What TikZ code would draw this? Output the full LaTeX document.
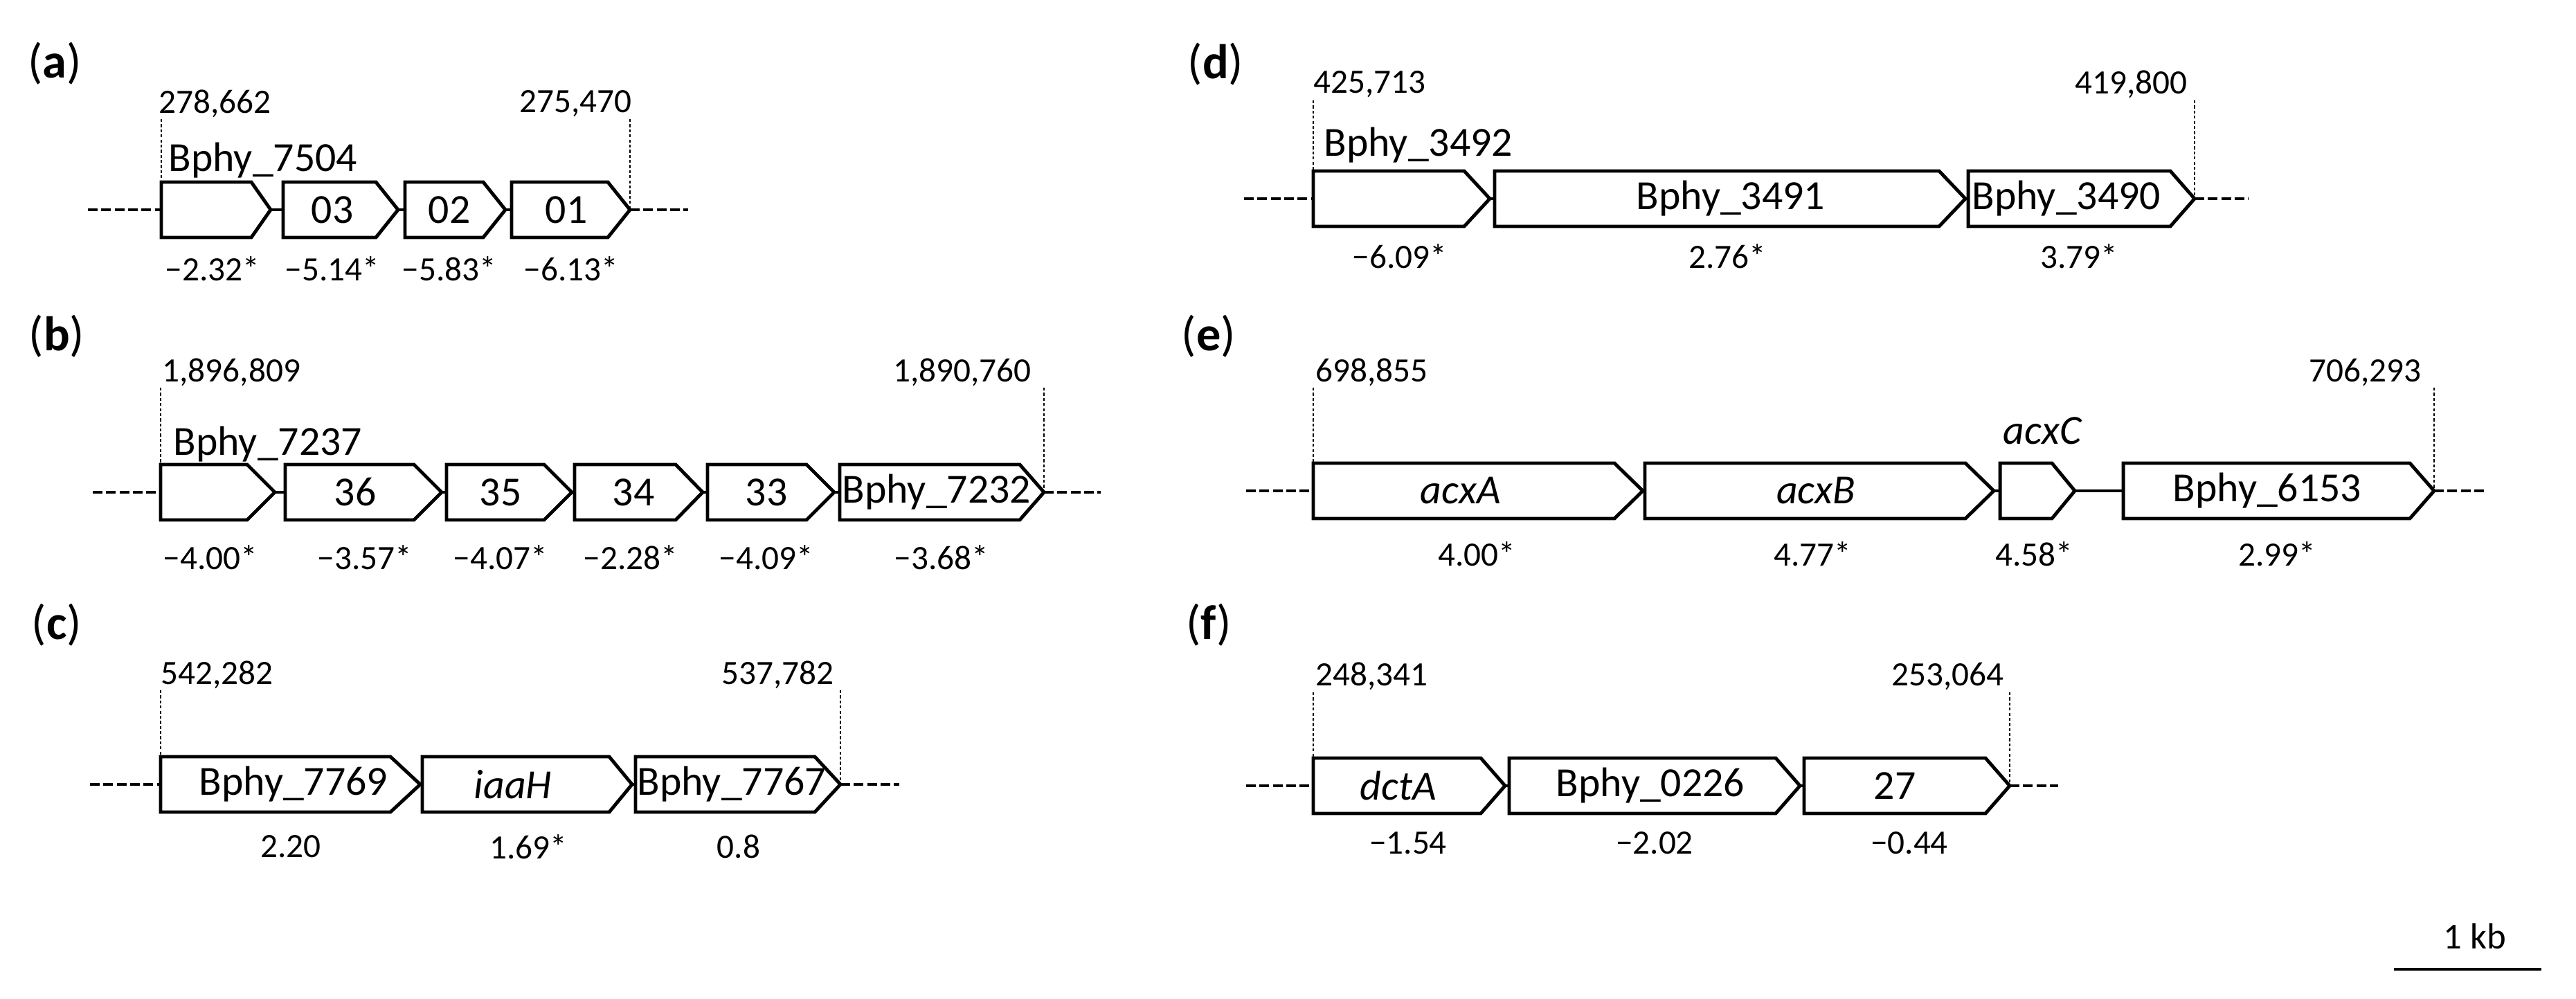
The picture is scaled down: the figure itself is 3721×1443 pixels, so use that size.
\documentclass[tikz,border=0pt]{standalone}
\usepackage{fontspec}
\setmainfont{Carlito}
\newcommand\genebox[5]{% x0, xb, xt, ymid, name
  \draw[gene] (#1,#4-40) -- (#2,#4-40) -- (#3,#4) -- (#2,#4+40) -- (#1,#4+40) -- cycle;
  \coordinate (#5) at ({(#1+#2)/2},#4);}
\begin{document}
\begin{tikzpicture}[x=0.01cm,y=-0.01cm,
  gene/.style={draw=black,fill=white,line width=1.4pt,line join=miter},
  backbone/.style={line width=1.4pt},
  flank/.style={line width=1.2pt,dash pattern=on 4pt off 1.5pt},
  guide/.style={line width=0.5pt,dash pattern=on 1.2pt off 0.9pt},
  num/.style={font=\fontsize{14}{16}\selectfont,inner sep=0pt},
  glab/.style={font=\fontsize{17}{20}\selectfont,inner sep=0pt},
  val/.style={font=\fontsize{14}{16}\selectfont,inner sep=0pt},
  panel/.style={font=\fontsize{20}{24}\selectfont,inner sep=0pt}]
\useasboundingbox (0,0) rectangle (3721,1443);

% ---------- (a)
\node[panel] (pa) at (79,92) {(\textbf{a})};
\coordinate (aFL) at (127,303); \coordinate (aL) at (233,303);
\coordinate (aR) at (910,303); \coordinate (aFR) at (994,303);
\draw[flank] (aFL) -- (aL); \draw[flank] (aR) -- (aFR);
\draw[backbone] (aL) -- (aR);
\genebox{233}{363}{391}{303}{a1}
\genebox{409}{543}{575}{303}{a2}
\genebox{585}{698}{730}{303}{a3}
\genebox{739}{878}{910}{303}{a4}
\node[num,anchor=west] (an1) at (229,150) {278,662};
\node[num,anchor=east] (an2) at (913,150) {275,470};
\coordinate (agl) at (233,172); \coordinate (agl2) at (233,263);
\coordinate (agr) at (910,172);
\draw[guide] (agl) -- (agl2); \draw[guide] (agr) -- (aR);
\node[glab,anchor=west] (al1) at (243,232) {Bphy\_7504};
\node[glab] (al2) at (480,303) {03};
\node[glab] (al3) at (649,303) {02};
\node[glab] (al4) at (818,303) {01};
\node[val] (av1) at (307,388) {−2.32*};
\node[val] (av2) at (480,388) {−5.14*};
\node[val] (av3) at (649,388) {−5.83*};
\node[val] (av4) at (825,388) {−6.13*};

% ---------- (b)
\node[panel] (pb) at (82,486) {(\textbf{b})};
\coordinate (bFL) at (134,711); \coordinate (bL) at (232,711);
\coordinate (bR) at (1508,711); \coordinate (bFR) at (1590,711);
\draw[flank] (bFL) -- (bL); \draw[flank] (bR) -- (bFR);
\draw[backbone] (bL) -- (bR);
\genebox{232}{357}{397}{711}{b1}
\genebox{412}{598}{638}{711}{b2}
\genebox{645}{786}{826}{711}{b3}
\genebox{830}{976}{1015}{711}{b4}
\genebox{1022}{1165}{1205}{711}{b5}
\genebox{1213}{1473}{1508}{711}{b6}
\node[num,anchor=west] (bn1) at (234,538) {1,896,809};
\node[num,anchor=east] (bn2) at (1490,538) {1,890,760};
\coordinate (bgl) at (232,560); \coordinate (bgl2) at (232,671);
\coordinate (bgr) at (1508,560);
\draw[guide] (bgl) -- (bgl2); \draw[guide] (bgr) -- (bR);
\node[glab,anchor=west] (bl1) at (250,642) {Bphy\_7237};
\node[glab] (bl2) at (513,711) {36};
\node[glab] (bl3) at (723,711) {35};
\node[glab] (bl4) at (915,711) {34};
\node[glab] (bl5) at (1107,711) {33};
\node[glab,anchor=west] (bl6) at (1216,711) {Bphy\_7232};
\node[val] (bv1) at (304,805) {−4.00*};
\node[val] (bv2) at (527,805) {−3.57*};
\node[val] (bv3) at (723,805) {−4.07*};
\node[val] (bv4) at (911,805) {−2.28*};
\node[val] (bv5) at (1107,805) {−4.09*};
\node[val] (bv6) at (1360,805) {−3.68*};

% ---------- (c)
\node[panel] (pc) at (82,903) {(\textbf{c})};
\coordinate (cFL) at (130,1133); \coordinate (cL) at (232,1133);
\coordinate (cR) at (1214,1133); \coordinate (cFR) at (1299,1133);
\draw[flank] (cFL) -- (cL); \draw[flank] (cR) -- (cFR);
\draw[backbone] (cL) -- (cR);
\genebox{232}{564}{607}{1133}{c1}
\genebox{610}{880}{913}{1133}{c2}
\genebox{918}{1177}{1214}{1133}{c3}
\node[num,anchor=west] (cn1) at (232,975) {542,282};
\node[num,anchor=east] (cn2) at (1205,975) {537,782};
\coordinate (cgl) at (232,997); \coordinate (cgl2) at (232,1093);
\coordinate (cgr) at (1214,997);
\draw[guide] (cgl) -- (cgl2); \draw[guide] (cgr) -- (cR);
\node[glab] (cl1) at (424,1133) {Bphy\_7769};
\node[glab] (cl2) at (741,1133) {\itshape iaaH};
\node[glab,anchor=west] (cl3) at (920,1133) {Bphy\_7767};
\node[val] (cv1) at (420,1223) {2.20};
\node[val] (cv2) at (763,1223) {1.69*};
\node[val] (cv3) at (1067,1223) {0.8};

% ---------- (d)
\node[panel] (pd) at (1756,93) {(\textbf{d})};
\coordinate (dFL) at (1797,287); \coordinate (dL) at (1897,287);
\coordinate (dR) at (3170,287); \coordinate (dFR) at (3248,287);
\draw[flank] (dFL) -- (dL); \draw[flank] (dR) -- (dFR);
\draw[backbone] (dL) -- (dR);
\genebox{1897}{2115}{2152}{287}{d1}
\genebox{2159}{2801}{2839}{287}{d2}
\genebox{2843}{3135}{3170}{287}{d3}
\node[num,anchor=west] (dn1) at (1897,122) {425,713};
\node[num,anchor=east] (dn2) at (3160,122) {419,800};
\coordinate (dgl) at (1897,145); \coordinate (dgl2) at (1897,247);
\coordinate (dgr) at (3170,145);
\draw[guide] (dgl) -- (dgl2); \draw[guide] (dgr) -- (dR);
\node[glab,anchor=west] (dl1) at (1912,210) {Bphy\_3492};
\node[glab] (dl2) at (2500,287) {Bphy\_3491};
\node[glab,anchor=west] (dl3) at (2848,287) {Bphy\_3490};
\node[val] (dv1) at (2022,370) {−6.09*};
\node[val] (dv2) at (2495,370) {2.76*};
\node[val] (dv3) at (3003,370) {3.79*};

% ---------- (e)
\node[panel] (pe) at (1746,486) {(\textbf{e})};
\coordinate (eFL) at (1800,709); \coordinate (eL) at (1897,709);
\coordinate (eR) at (3516,709); \coordinate (eFR) at (3592,709);
\draw[flank] (eFL) -- (eL); \draw[flank] (eR) -- (eFR);
\draw[backbone] (eL) -- (eR);
\genebox{1897}{2332}{2373}{709}{e1}
\genebox{2376}{2839}{2880}{709}{e2}
\genebox{2889}{2964}{2997}{709}{e3}
\genebox{3067}{3481}{3516}{709}{e4}
\node[num,anchor=west] (en1) at (1900,538) {698,855};
\node[num,anchor=east] (en2) at (3498,538) {706,293};
\coordinate (egl) at (1897,560); \coordinate (egl2) at (1897,669);
\coordinate (egr) at (3516,560);
\draw[guide] (egl) -- (egl2); \draw[guide] (egr) -- (eR);
\node[glab] (el1) at (2110,709) {\itshape acxA};
\node[glab] (el2) at (2623,709) {\itshape acxB};
\node[glab] (el3) at (2950,622) {\itshape acxC};
\node[glab] (el4) at (3275,709) {Bphy\_6153};
\node[val] (ev1) at (2133,800) {4.00*};
\node[val] (ev2) at (2618,800) {4.77*};
\node[val] (ev3) at (2938,800) {4.58*};
\node[val] (ev4) at (3289,800) {2.99*};

% ---------- (f)
\node[panel] (pf) at (1746,903) {(\textbf{f})};
\coordinate (fFL) at (1800,1135); \coordinate (fL) at (1897,1135);
\coordinate (fR) at (2903,1135); \coordinate (fFR) at (2973,1135);
\draw[flank] (fFL) -- (fL); \draw[flank] (fR) -- (fFR);
\draw[backbone] (fL) -- (fR);
\genebox{1897}{2139}{2174}{1135}{f1}
\genebox{2180}{2565}{2600}{1135}{f2}
\genebox{2606}{2868}{2903}{1135}{f3}
\node[num,anchor=west] (fn1) at (1900,977) {248,341};
\node[num,anchor=east] (fn2) at (2895,977) {253,064};
\coordinate (fgl) at (1897,1000); \coordinate (fgl2) at (1897,1095);
\coordinate (fgr) at (2903,1000);
\draw[guide] (fgl) -- (fgl2); \draw[guide] (fgr) -- (fR);
\node[glab] (fl1) at (2020,1135) {\itshape dctA};
\node[glab] (fl2) at (2384,1135) {Bphy\_0226};
\node[glab] (fl3) at (2737,1135) {27};
\node[val] (fv1) at (2034,1218) {−1.54};
\node[val] (fv2) at (2390,1218) {−2.02};
\node[val] (fv3) at (2758,1218) {−0.44};

% ---------- scale bar
\coordinate (sb1) at (3458,1400); \coordinate (sb2) at (3671,1400);
\draw[line width=1.4pt] (sb1) -- (sb2);
\node[num,font=\fontsize{15}{18}\selectfont] (kb) at (3575,1352) {1 kb};
\end{tikzpicture}
\end{document}
